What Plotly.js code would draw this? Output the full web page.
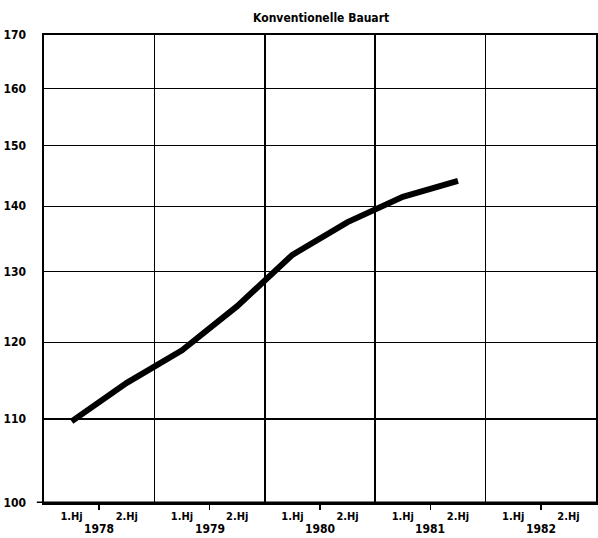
<!DOCTYPE html>
<html><head><meta charset="utf-8">
<script src="https://cdn.plot.ly/plotly-3.0.1.min.js"></script>
<style>html,body{margin:0;padding:0;background:#fff}</style>
</head><body>
<div id="chart" style="width:598px;height:538px"></div>
<script>
var years = ['1978', '1979', '1980', '1981', '1982'];
var halves = ['1.Hj', '2.Hj'];
var values = [109.7, 114.6, 118.9, 125.0, 132.5, 137.5, 141.5, 144.1];
var yTicks = [100, 110, 120, 130, 140, 150, 160, 170];

var fnt = '"DejaVu Sans Condensed", "Liberation Sans Narrow", "Liberation Sans", sans-serif';

var xs = values.map(function (v, i) { return i + 0.5; });
var halfPos = [], halfText = [];
years.forEach(function (y, i) {
  halves.forEach(function (h, j) { halfPos.push(i * 2 + j + 0.5); halfText.push('<b>' + h + '</b>'); });
});
var dividers = years.map(function (y, i) { return i * 2; }).concat([years.length * 2]);
var mids = years.map(function (y, i) { return i * 2 + 1; });

var trace = {
  x: xs, y: values, type: 'scatter', mode: 'lines',
  line: { color: '#000', width: 6, shape: 'linear' },
  hoverinfo: 'skip'
};
var trace2 = { x: [0], y: [100], xaxis: 'x2', yaxis: 'y', mode: 'markers',
  marker: { opacity: 0 }, hoverinfo: 'skip', showlegend: false };

var annotations = years.map(function (y, i) {
  return { text: '<b>' + y + '</b>', x: i * 2 + 1, xref: 'x', y: -0.056, yref: 'paper',
    yanchor: 'middle', showarrow: false, font: { family: fnt, size: 12, color: '#000' } };
});

var layout = {
  width: 598, height: 538,
  margin: { l: 44, r: 2, t: 35, b: 35 },
  paper_bgcolor: '#fff', plot_bgcolor: '#fff',
  showlegend: false,
  title: { text: '<b>Konventionelle Bauart</b>', x: 0.537, xanchor: 'center', y: 0.966, yanchor: 'middle',
    font: { family: fnt, size: 12, color: '#000' } },
  xaxis: {
    range: [0, years.length * 2], tickmode: 'array', tickvals: dividers,
    showticklabels: false, ticks: '', showgrid: true, gridcolor: '#000', gridwidth: 1.6,
    zeroline: false, showline: true, linecolor: '#000', linewidth: 1.6, mirror: true,
    minor: { tickmode: 'array', tickvals: mids, ticks: 'outside', ticklen: 5, tickwidth: 1.5, tickcolor: '#000', showgrid: false },
    fixedrange: true
  },
  xaxis2: {
    overlaying: 'x', matches: 'x', side: 'bottom', range: [0, years.length * 2],
    tickmode: 'array', tickvals: halfPos, ticktext: halfText, ticks: '', showgrid: false,
    zeroline: false, showline: false, ticklabelstandoff: 5,
    tickfont: { family: fnt, size: 11, color: '#000' }
  },
  yaxis: {
    type: 'log', range: [Math.log10(100), Math.log10(170)],
    tickmode: 'array', tickvals: yTicks, ticktext: yTicks.map(function (t) { return '<b>' + t + '</b>'; }),
    ticks: '', ticklabelstandoff: 14,
    tickfont: { family: fnt, size: 12, color: '#000' },
    showgrid: true, gridcolor: '#000', gridwidth: 1.4,
    zeroline: false, showline: true, linecolor: '#000', linewidth: 1.6, mirror: true,
    fixedrange: true
  },
  shapes: [{ type: 'line', xref: 'paper', yref: 'y', x0: -0.013, x1: 1, y0: 100, y1: 100,
    line: { color: '#000', width: 3 } }],
  annotations: annotations
};
Plotly.newPlot('chart', [trace, trace2], layout, { displayModeBar: false, staticPlot: true });
</script>
</body></html>
